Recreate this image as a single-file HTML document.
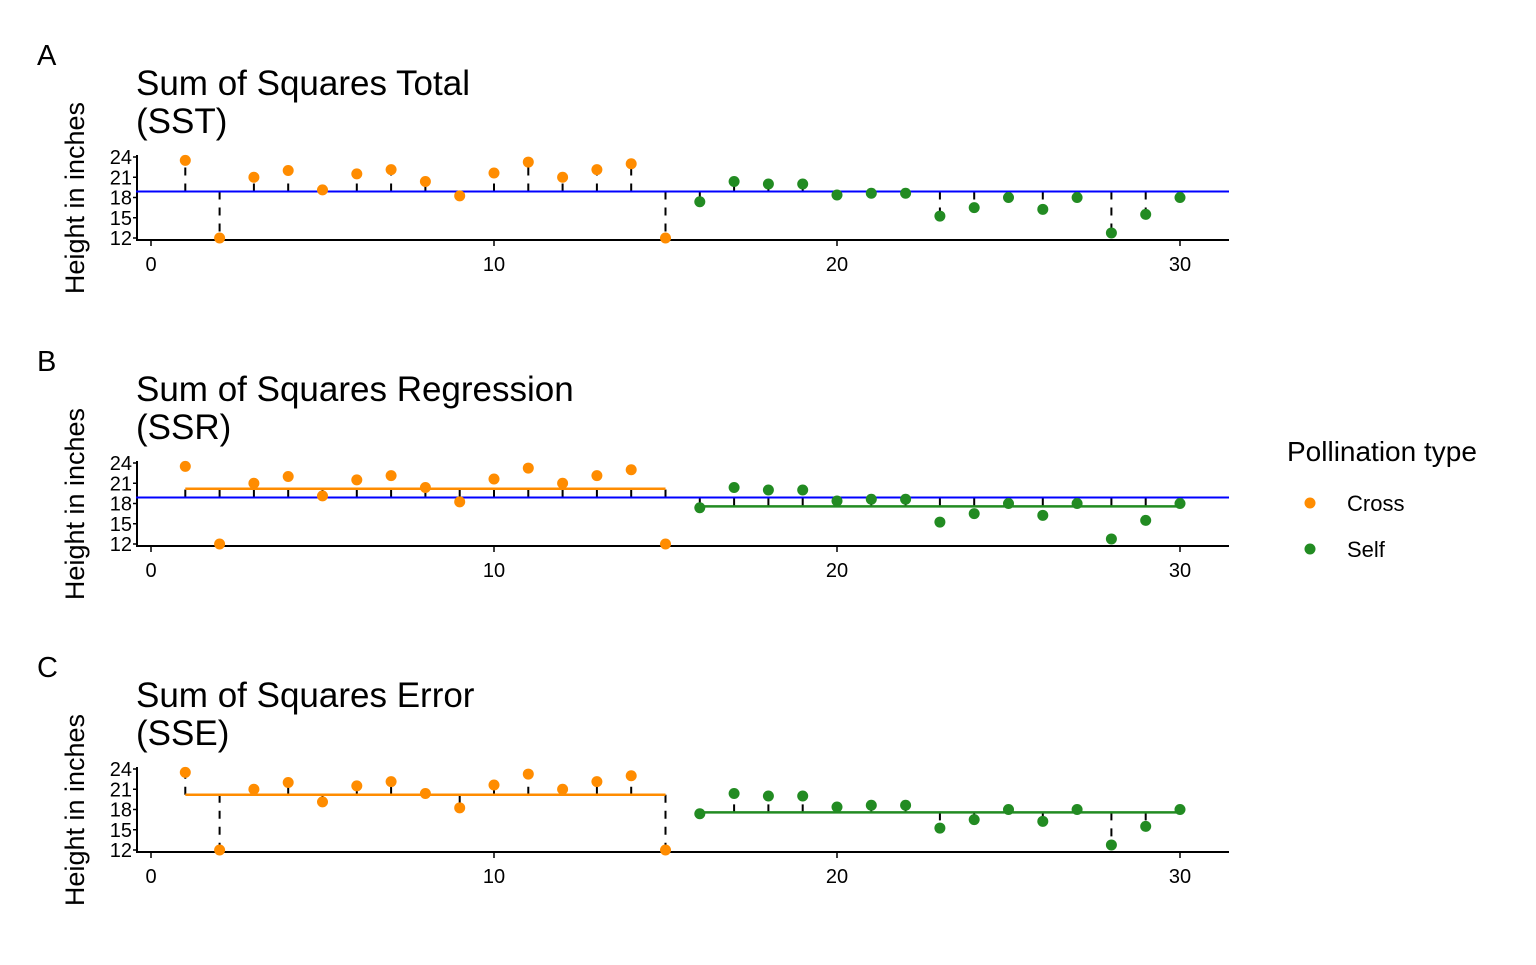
<!DOCTYPE html>
<html><head><meta charset="utf-8"><style>
html,body{margin:0;padding:0;background:#fff;}
svg text{font-family:"Liberation Sans",sans-serif;}
</style></head><body>
<svg id="s" width="1536" height="960" xmlns="http://www.w3.org/2000/svg"></svg>
<script>
var cross=[23.5,12,21,22,19.125,21.5,22.125,20.375,18.25,21.625,23.25,21,22.125,23,12];
var self=[17.375,20.375,20,20,18.375,18.625,18.625,15.25,16.5,18,16.25,18,12.75,15.5,18];
var all=cross.concat(self);
var mAll=all.reduce((a,b)=>a+b)/30, mC=cross.reduce((a,b)=>a+b)/15, mS=self.reduce((a,b)=>a+b)/15;
var OR="#FF8C00",GR="#228B22";
var h="";
function X(i){return 151+i*34.3;}
var titles=[["A","Sum of Squares Total"],["B","Sum of Squares Regression"],["C","Sum of Squares Error"]];
var abbr=["(SST)","(SSR)","(SSE)"];
for(var p=0;p<3;p++){
  var off=p*306;
  function Y(v){return 238+off-(v-12)*6.75;}
  h+='<text x="37" y="'+(65+off)+'" font-size="29">'+titles[p][0]+'</text>';
  h+='<text x="136" y="'+(95+off)+'" font-size="35">'+titles[p][1]+'</text>';
  h+='<text x="136" y="'+(133+off)+'" font-size="35">'+abbr[p]+'</text>';
  h+='<text transform="translate(84,'+(198+off)+') rotate(-90)" font-size="27" text-anchor="middle">Height in inches</text>';
  h+='<line x1="137" x2="137" y1="'+(155+off)+'" y2="'+(241+off)+'" stroke="#000" stroke-width="2"/>';
  [12,15,18,21,24].forEach(function(t){
    h+='<line x1="133" x2="137" y1="'+Y(t)+'" y2="'+Y(t)+'" stroke="#000" stroke-width="1.5"/>';
    h+='<text x="132" y="'+(Y(t)+7)+'" font-size="20" text-anchor="end">'+t+'</text>';
  });
  h+='<line x1="136" x2="1229" y1="'+(240+off)+'" y2="'+(240+off)+'" stroke="#000" stroke-width="2"/>';
  [0,10,20,30].forEach(function(t){
    h+='<line x1="'+X(t)+'" x2="'+X(t)+'" y1="'+(240+off)+'" y2="'+(246+off)+'" stroke="#000" stroke-width="1.5"/>';
    h+='<text x="'+X(t)+'" y="'+(271+off)+'" font-size="20" text-anchor="middle">'+t+'</text>';
  });
  for(var i=0;i<30;i++){
    var v=all[i], gm=i<15?mC:mS, a,b;
    if(p==0){a=v;b=mAll;}else if(p==1){a=gm;b=mAll;}else{a=v;b=gm;}
    h+='<line x1="'+X(i+1)+'" x2="'+X(i+1)+'" y1="'+Y(b)+'" y2="'+Y(a)+'" stroke="#000" stroke-width="2" stroke-dasharray="8,8"/>';
  }
  if(p>0){
    h+='<line x1="'+X(1)+'" x2="'+X(15)+'" y1="'+Y(mC)+'" y2="'+Y(mC)+'" stroke="'+OR+'" stroke-width="2.5"/>';
    h+='<line x1="'+X(16)+'" x2="'+X(30)+'" y1="'+Y(mS)+'" y2="'+Y(mS)+'" stroke="'+GR+'" stroke-width="2.5"/>';
  }
  if(p<2) h+='<line x1="136" x2="1229" y1="'+Y(mAll)+'" y2="'+Y(mAll)+'" stroke="#0000FF" stroke-width="2"/>';
  for(var i=0;i<30;i++){
    h+='<circle cx="'+X(i+1)+'" cy="'+Y(all[i])+'" r="5.5" fill="'+(i<15?OR:GR)+'"/>';
  }
}
h+='<text x="1287" y="461" font-size="28">Pollination type</text>';
h+='<circle cx="1310" cy="503" r="5.5" fill="'+OR+'"/><text x="1347" y="511" font-size="22">Cross</text>';
h+='<circle cx="1310" cy="549" r="5.5" fill="'+GR+'"/><text x="1347" y="557" font-size="22">Self</text>';
document.getElementById("s").innerHTML=h;
</script>
</body></html>
